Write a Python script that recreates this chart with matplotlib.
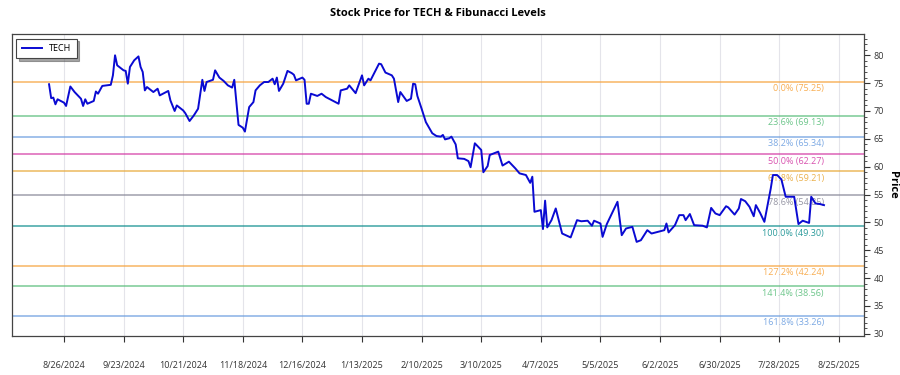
import matplotlib
matplotlib.use("Agg")
import matplotlib.pyplot as plt
import matplotlib.dates as mdates
from matplotlib.ticker import MultipleLocator, FixedLocator, FuncFormatter
import pandas as pd

plt.rcParams['font.family'] = ['Open Sans', 'DejaVu Sans']

ticker_name = "TECH"
dates = [
    "2024-08-19", "2024-08-20", "2024-08-21", "2024-08-22", "2024-08-23", "2024-08-26", "2024-08-27",
    "2024-08-29", "2024-08-31", "2024-09-03", "2024-09-04", "2024-09-05", "2024-09-06", "2024-09-09",
    "2024-09-10", "2024-09-11", "2024-09-13", "2024-09-15", "2024-09-17", "2024-09-18", "2024-09-19",
    "2024-09-20", "2024-09-23", "2024-09-24", "2024-09-25", "2024-09-26", "2024-09-28", "2024-09-30",
    "2024-10-01", "2024-10-02", "2024-10-03", "2024-10-04", "2024-10-07", "2024-10-09", "2024-10-10",
    "2024-10-12", "2024-10-14", "2024-10-15", "2024-10-17", "2024-10-18", "2024-10-21", "2024-10-22",
    "2024-10-24", "2024-10-26", "2024-10-28", "2024-10-30", "2024-10-31", "2024-11-01", "2024-11-04",
    "2024-11-05", "2024-11-07", "2024-11-09", "2024-11-11", "2024-11-13", "2024-11-14", "2024-11-16",
    "2024-11-18", "2024-11-19", "2024-11-21", "2024-11-23", "2024-11-24", "2024-11-26", "2024-11-28",
    "2024-11-30", "2024-12-02", "2024-12-03", "2024-12-04", "2024-12-05", "2024-12-07", "2024-12-09",
    "2024-12-11", "2024-12-12", "2024-12-13", "2024-12-16", "2024-12-17", "2024-12-18", "2024-12-19",
    "2024-12-20", "2024-12-23", "2024-12-25", "2024-12-27", "2025-01-02", "2025-01-03", "2025-01-06",
    "2025-01-07", "2025-01-10", "2025-01-13", "2025-01-14", "2025-01-16", "2025-01-17", "2025-01-19",
    "2025-01-21", "2025-01-22", "2025-01-24", "2025-01-27", "2025-01-28", "2025-01-30", "2025-01-31",
    "2025-02-03", "2025-02-05", "2025-02-06", "2025-02-07", "2025-02-08", "2025-02-10", "2025-02-12",
    "2025-02-15", "2025-02-17", "2025-02-19", "2025-02-20", "2025-02-21", "2025-02-23", "2025-02-24",
    "2025-02-26", "2025-02-27", "2025-03-02", "2025-03-04", "2025-03-05", "2025-03-07", "2025-03-10",
    "2025-03-11", "2025-03-13", "2025-03-14", "2025-03-18", "2025-03-20", "2025-03-23", "2025-03-26",
    "2025-03-28", "2025-03-31", "2025-04-02", "2025-04-03", "2025-04-04", "2025-04-07", "2025-04-08",
    "2025-04-09", "2025-04-10", "2025-04-12", "2025-04-14", "2025-04-17", "2025-04-21", "2025-04-24",
    "2025-04-26", "2025-04-29", "2025-05-01", "2025-05-02", "2025-05-05", "2025-05-06", "2025-05-08",
    "2025-05-13", "2025-05-15", "2025-05-17", "2025-05-20", "2025-05-22", "2025-05-24", "2025-05-27",
    "2025-05-29", "2025-06-04", "2025-06-05", "2025-06-06", "2025-06-09", "2025-06-11", "2025-06-13",
    "2025-06-14", "2025-06-16", "2025-06-18", "2025-06-22", "2025-06-24", "2025-06-26", "2025-06-28",
    "2025-06-30", "2025-07-03", "2025-07-04", "2025-07-07", "2025-07-09", "2025-07-10", "2025-07-12",
    "2025-07-14", "2025-07-16", "2025-07-17", "2025-07-19", "2025-07-21", "2025-07-24", "2025-07-25",
    "2025-07-27", "2025-07-29", "2025-07-31", "2025-08-02", "2025-08-04", "2025-08-06", "2025-08-08",
    "2025-08-11", "2025-08-12", "2025-08-14", "2025-08-16", "2025-08-18",
]
prices = [
    74.8, 72.3, 72.4, 71.2, 72.1, 71.5, 70.9,
    74.4, 73.4, 72.2, 70.9, 72.1, 71.3, 71.8,
    73.5, 73.1, 74.5, 74.6, 74.7, 76.4, 80.0,
    78.2, 77.3, 77.2, 74.9, 77.9, 79.1, 79.8,
    77.9, 77.0, 73.7, 74.3, 73.4, 74.0, 72.8,
    73.2, 73.6, 71.9, 70.0, 71.0, 70.1, 69.6,
    68.2, 69.2, 70.4, 75.6, 73.6, 75.2, 75.6,
    77.3, 76.0, 75.4, 74.6, 74.2, 75.6, 67.5,
    67.0, 66.3, 70.7, 71.6, 73.7, 74.6, 75.2,
    75.2, 75.8, 74.8, 76.0, 73.6, 74.9, 77.2,
    76.8, 76.5, 75.5, 76.0, 75.6, 71.3, 71.3,
    73.1, 72.7, 73.1, 72.5, 71.3, 73.7, 74.0,
    74.6, 73.2, 76.4, 74.6, 75.8, 75.5, 77.0,
    78.5, 78.4, 76.9, 76.4, 75.8, 71.6, 73.4,
    71.8, 72.2, 74.9, 74.8, 72.7, 70.4, 68.0,
    66.0, 65.5, 65.4, 65.7, 64.9, 65.1, 65.4,
    64.0, 61.5, 61.4, 61.0, 59.9, 64.2, 63.0,
    59.0, 60.1, 62.1, 62.7, 60.2, 60.9, 59.7,
    58.8, 58.5, 57.1, 58.2, 51.9, 52.2, 48.8,
    53.9, 49.1, 50.4, 52.5, 48.0, 47.3, 50.4,
    50.2, 50.3, 49.4, 50.3, 49.8, 47.4, 49.7,
    53.7, 47.7, 48.9, 49.2, 46.5, 46.8, 48.6,
    48.0, 48.6, 49.8, 48.2, 49.5, 51.3, 51.3,
    50.4, 51.5, 49.5, 49.4, 49.1, 52.6, 51.6,
    51.3, 52.9, 52.7, 51.4, 52.5, 54.2, 53.8,
    52.8, 51.1, 53.1, 51.7, 50.1, 56.1, 58.5,
    58.5, 57.7, 54.6, 54.6, 54.6, 49.7, 50.3,
    49.9, 54.6, 53.4, 53.3, 53.1,
]

fib_ratios = [0.0, 23.6, 38.2, 50.0, 61.8, 78.6, 100.0, 127.2, 141.4, 161.8]
fib_values = [75.25, 69.13, 65.34, 62.27, 59.21, 54.85, 49.30, 42.24, 38.56, 33.26]
fib_colors = ["#f7a540", "#5cbf7d", "#6d9fe0", "#d43fa6", "#e8a93a",
              "#8a8a9a", "#149090", "#f7a540", "#5cbf7d", "#6d9fe0"]

x = pd.to_datetime(dates)
tick_dates = pd.date_range("2024-08-26", periods=14, freq="28D")

fig = plt.figure(figsize=(9, 3.75), dpi=100)
ax = fig.add_axes([0.0133, 0.104, 0.9467, 0.805])

for r, v, c in zip(fib_ratios, fib_values, fib_colors):
    ax.axhline(v, color=c, lw=1.2, alpha=0.75, zorder=1)
    ax.text(x[-1], v - 0.45, f"{r:.1f}% ({v:.2f})", color=c, fontsize=6.5,
            ha="right", va="top", alpha=0.9, zorder=2)

ax.plot(x, prices, color="#0a0ad2", lw=1.4, label=ticker_name, zorder=3)

ax.set_xlim(pd.Timestamp("2024-08-01 14:00"), pd.Timestamp("2025-09-05 19:00"))
ax.set_ylim(29.6, 83.8)

ax.xaxis.set_major_locator(FixedLocator(mdates.date2num(tick_dates)))
ax.xaxis.set_major_formatter(FuncFormatter(
    lambda v, p: (lambda d: f"{d.month}/{d.day}/{d.year}")(mdates.num2date(v))))
ax.grid(axis="x", color="#e4e4ea", lw=0.8)
ax.set_axisbelow(True)

ax.yaxis.tick_right()
ax.yaxis.set_label_position("right")
ax.yaxis.set_major_locator(MultipleLocator(5))
ax.yaxis.set_minor_locator(MultipleLocator(1))
ax.tick_params(axis="y", which="major", length=4, labelsize=6.5, pad=3, colors="#333333", labelcolor="#333333")
ax.tick_params(axis="y", which="minor", length=2, colors="#333333")
ax.tick_params(axis="x", which="major", length=4, labelsize=6.5, pad=14, colors="#333333", labelcolor="#333333")
ax.set_ylabel("Price", rotation=270, fontsize=8, fontweight="bold", labelpad=10)

for s in ax.spines.values():
    s.set_color("#444444")
    s.set_linewidth(0.9)

ax.set_title("Stock Price for TECH & Fibunacci Levels", fontsize=8, fontweight="bold", pad=13)

leg = ax.legend(loc="upper left", fontsize=6.5, fancybox=False, shadow=True,
                framealpha=1, edgecolor="#444444", borderpad=0.6, handlelength=2.2)
leg.get_frame().set_linewidth(0.8)

fig.savefig("out.png", dpi=100)
